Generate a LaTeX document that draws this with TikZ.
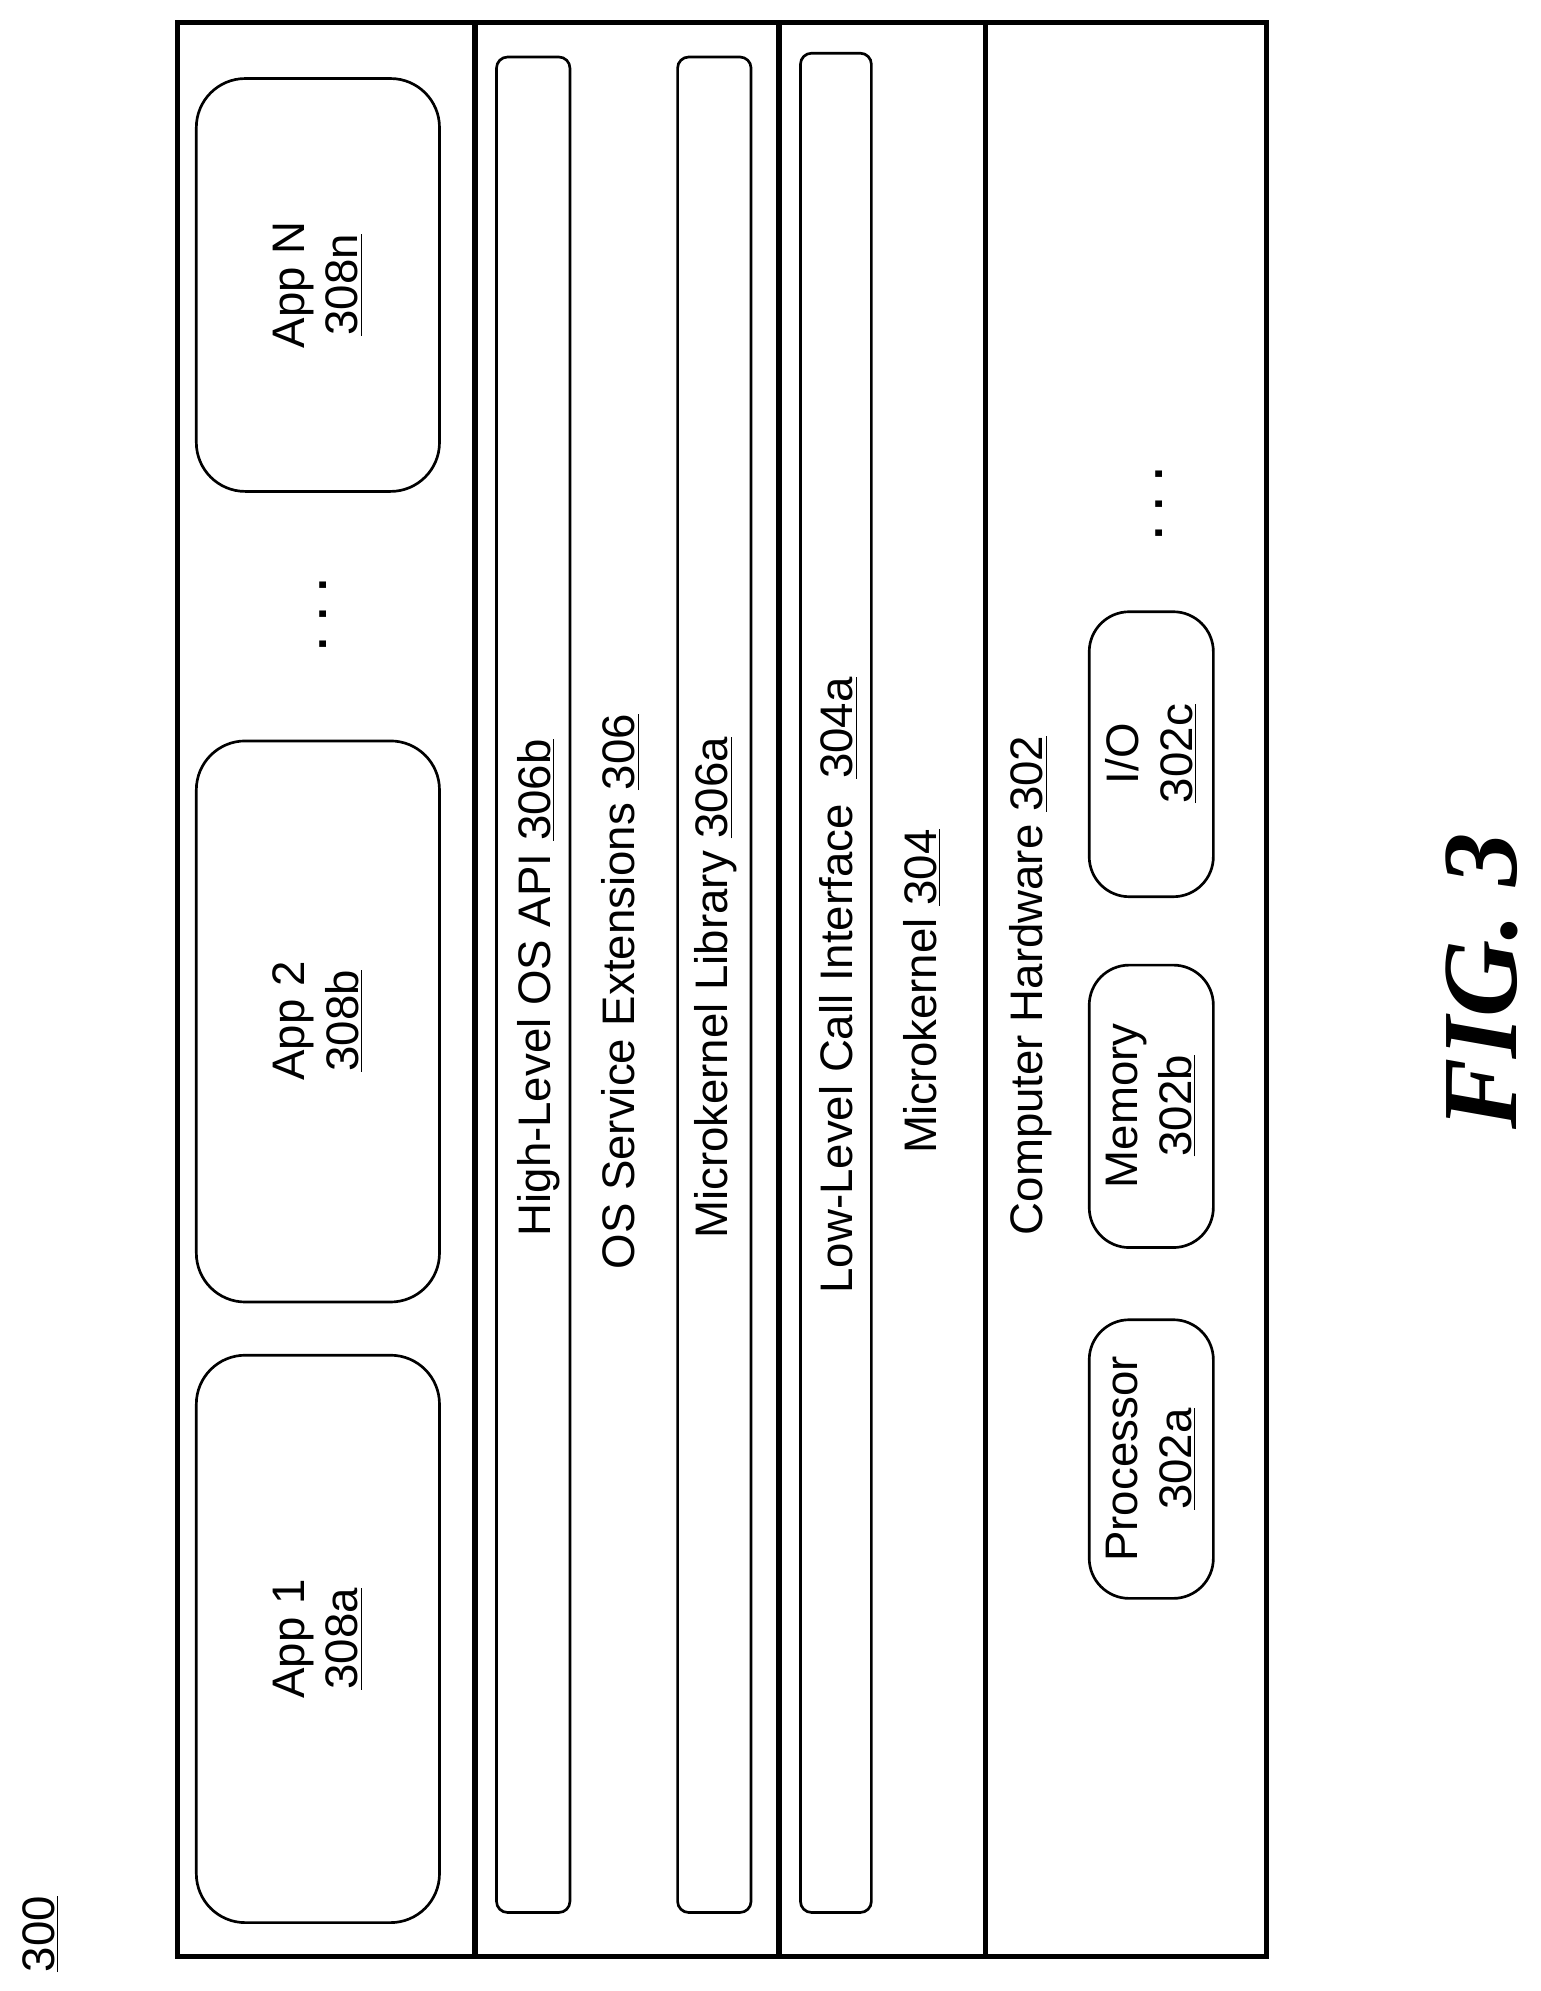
\documentclass[tikz,border=0pt]{standalone}
\usepackage{fontspec}
\setmainfont{Liberation Sans}
\newfontfamily\figfont{Liberation Serif}
\usetikzlibrary{positioning}
\tikzset{
  layer/.style={draw, line width=2.4pt},
  app/.style={draw, line width=1.2pt, rounded corners=22pt},
  bar/.style={draw, line width=1.2pt, rounded corners=5pt},
  lbl/.style={rotate=90, align=center, font=\fontsize{20.5}{24}\selectfont, inner sep=0pt},
}
\newcommand{\ul}[1]{\underline{#1}}
\begin{document}
\begin{tikzpicture}[x=0.02cm, y=-0.02cm]
  \useasboundingbox (0,0) rectangle (1216,1572);

  % Layers
  \draw[layer] (140,18) rectangle (1000,1545);
  \draw[layer] (375,18) -- (375,1545);
  \draw[layer] (615,18) -- (615,1545);
  \draw[layer] (778,18) -- (778,1545);

  % Applications
  \draw[app] (155,1070) rectangle (347,1518);
  \draw[app] (155,585) rectangle (347,1028);
  \draw[app] (155,62) rectangle (347,388);
  \node[lbl] (app1) at (251,1294) {App 1\\\ul{308a}};
  \node[lbl] (app2) at (251,806) {App 2\\\ul{308b}};
  \node[lbl] (appn) at (251,225) {App N\\\ul{308n}};
  \node[lbl] (appdots) at (255,485) {\textbf{. . .}};

  % OS service extensions
  \draw[bar] (392,45) rectangle (450,1510);
  \draw[bar] (535,45) rectangle (593,1510);
  \node[lbl] (api) at (425,780) {High-Level OS API \ul{306b}};
  \node[lbl] (ext) at (490,783) {OS Service Extensions \ul{306}};
  \node[lbl] (lib) at (565,780) {Microkernel Library \ul{306a}};

  % Microkernel
  \draw[bar] (632,42) rectangle (688,1510);
  \node[lbl] (call) at (662,778) {Low-Level Call Interface\ \ \ul{304a}};
  \node[lbl] (mk) at (728,783) {Microkernel \ul{304}};

  % Hardware
  \node[lbl] (hw) at (814,778) {Computer Hardware \ul{302}};
  \draw[app, rounded corners=18pt] (860,1042) rectangle (958,1262);
  \draw[app, rounded corners=18pt] (860,762) rectangle (958,985);
  \draw[app, rounded corners=18pt] (860,483) rectangle (958,708);
  \node[lbl] (cpu) at (909,1152) {Processor\\\ul{302a}};
  \node[lbl] (mem) at (909,873) {Memory\\\ul{302b}};
  \node[lbl] (io) at (909,595) {I/O\\\ul{302c}};
  \node[lbl] (hwdots) at (915,398) {\textbf{. . .}};

  % Labels
  \node[lbl] (ref) at (32,1527) {\ul{300}};
  \node[rotate=90, font=\figfont\fontsize{48}{52}\selectfont\bfseries\itshape] (fig) at (1170,775) {FIG. 3};
\end{tikzpicture}
\end{document}
